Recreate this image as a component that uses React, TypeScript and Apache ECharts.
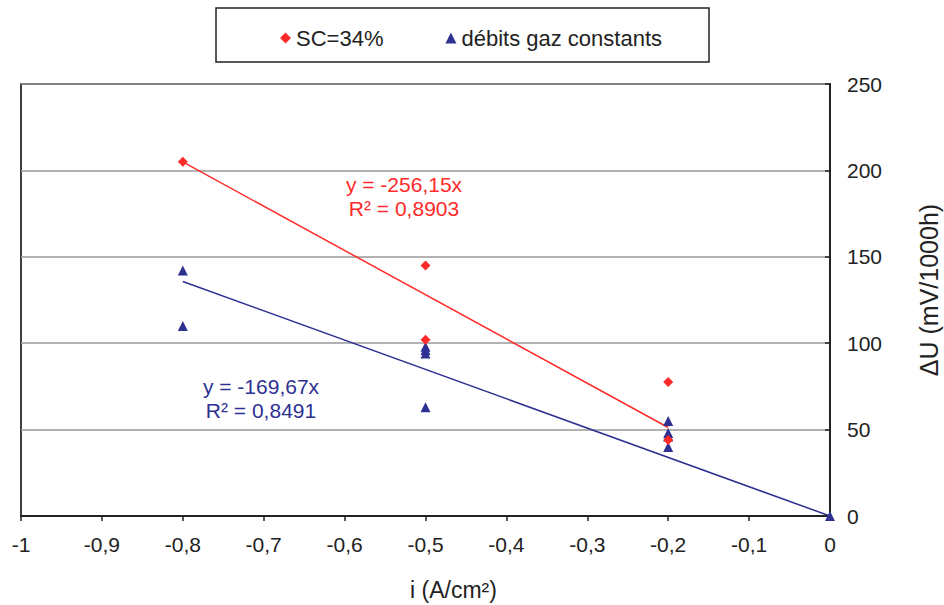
import React, { useEffect, useRef } from "react";
import * as echarts from "echarts";

const scSeriesName = "SC=34%";
const gazSeriesName = "débits gaz constants";

const scX = [-0.8, -0.5, -0.5, -0.2, -0.2];
const scY = [205, 145, 102, 77.5, 44];

const gazX = [-0.8, -0.8, -0.5, -0.5, -0.5, -0.5, -0.2, -0.2, -0.2, -0.2, 0];
const gazY = [142, 110, 98, 96, 94, 63, 55, 48, 46, 40, 0];

const scTrendX = [-0.8, -0.2];
const scTrendY = [204.9, 51.2];
const gazTrendX = [-0.8, 0];
const gazTrendY = [135.7, 0];

const scEquation = ["y = -256,15x", "R² = 0,8903"];
const gazEquation = ["y = -169,67x", "R² = 0,8491"];

const xName = "i (A/cm²)";
const yName = "ΔU (mV/1000h)";

const RED = "#ff2a2a";
const BLUE = "#2e3192";
const FONT = "'Liberation Sans', Arial, sans-serif";

const zip = (xs: number[], ys: number[]) => xs.map((x, i) => [x, ys[i]]);

export default function App() {
  const ref = useRef<HTMLDivElement>(null);
  useEffect(() => {
    if (!ref.current) return;
    const chart = echarts.init(ref.current, undefined, { renderer: "svg" });
    chart.setOption({
      animation: false,
      backgroundColor: "#fff",
      textStyle: { fontFamily: FONT },
      grid: {
        left: 21,
        right: 114,
        top: 84,
        bottom: 89,
        show: true,
        borderColor: "#000",
        borderWidth: 1.5,
        containLabel: false,
        outerBoundsMode: "none",
      },
      legend: {
        left: 275,
        top: 22,
        itemGap: 62,
        itemWidth: 11,
        itemHeight: 11,
        data: [
          { name: scSeriesName, icon: "diamond" },
          { name: gazSeriesName, icon: "triangle" },
        ],
        textStyle: { fontSize: 22, color: "#222", fontFamily: FONT },
      },
      xAxis: {
        type: "value",
        min: -1,
        max: 0,
        interval: 0.1,
        name: xName,
        nameLocation: "middle",
        nameGap: 62,
        nameTextStyle: { fontSize: 23, color: "#222", fontFamily: FONT, padding: [0, 0, 0, 56] },
        axisLine: { onZero: false, lineStyle: { color: "#222", width: 2 } },
        axisTick: { show: true, inside: false, length: 5, lineStyle: { color: "#222", width: 1.5 } },
        axisLabel: {
          margin: 18,
          fontSize: 21,
          color: "#222",
          fontFamily: FONT,
          formatter: (v: number) => Number(v.toFixed(1)).toString().replace(".", ","),
        },
        splitLine: { show: false },
      },
      yAxis: {
        type: "value",
        position: "right",
        min: 0,
        max: 250,
        interval: 50,
        name: yName,
        nameLocation: "middle",
        nameRotate: 90,
        nameGap: 86,
        nameTextStyle: { fontSize: 25, color: "#222", fontFamily: FONT, padding: [0, 0, 0, 20] },
        axisLine: { show: true, lineStyle: { color: "#222", width: 2 } },
        axisTick: { show: true, inside: true, length: 5, lineStyle: { color: "#222", width: 1.5 } },
        axisLabel: { margin: 17, fontSize: 21, color: "#222", fontFamily: FONT },
        splitLine: { show: true, lineStyle: { color: "#999", width: 1.5 } },
      },
      series: [
        {
          name: "scTrend",
          type: "line",
          data: zip(scTrendX, scTrendY),
          symbol: "none",
          lineStyle: { color: RED, width: 1.5 },
          z: 2,
        },
        {
          name: "gazTrend",
          type: "line",
          data: zip(gazTrendX, gazTrendY),
          symbol: "none",
          lineStyle: { color: BLUE, width: 1.5 },
          z: 2,
        },
        {
          name: gazSeriesName,
          type: "scatter",
          symbol: "triangle",
          symbolSize: 10,
          itemStyle: { color: BLUE, opacity: 1 },
          data: zip(gazX, gazY),
          z: 3,
        },
        {
          name: scSeriesName,
          type: "scatter",
          symbol: "diamond",
          symbolSize: 10,
          itemStyle: { color: RED, opacity: 1 },
          data: zip(scX, scY),
          z: 4,
        },
      ],
      graphic: [
        {
          type: "rect",
          shape: { x: 216, y: 8, width: 493, height: 54 },
          style: { fill: "none", stroke: "#222", lineWidth: 1.5 },
        },
        {
          type: "text",
          x: 404,
          y: 196,
          style: {
            text: scEquation.join("\n"),
            fill: RED,
            font: `21px ${FONT}`,
            align: "center",
            verticalAlign: "middle",
            lineHeight: 24,
          },
        },
        {
          type: "text",
          x: 261,
          y: 398,
          style: {
            text: gazEquation.join("\n"),
            fill: BLUE,
            font: `21px ${FONT}`,
            align: "center",
            verticalAlign: "middle",
            lineHeight: 24,
          },
        },
      ],
    });
    return () => chart.dispose();
  }, []);
  return <div ref={ref} style={{ width: 944, height: 605, position: "absolute", left: 0, top: 0 }} />;
}
